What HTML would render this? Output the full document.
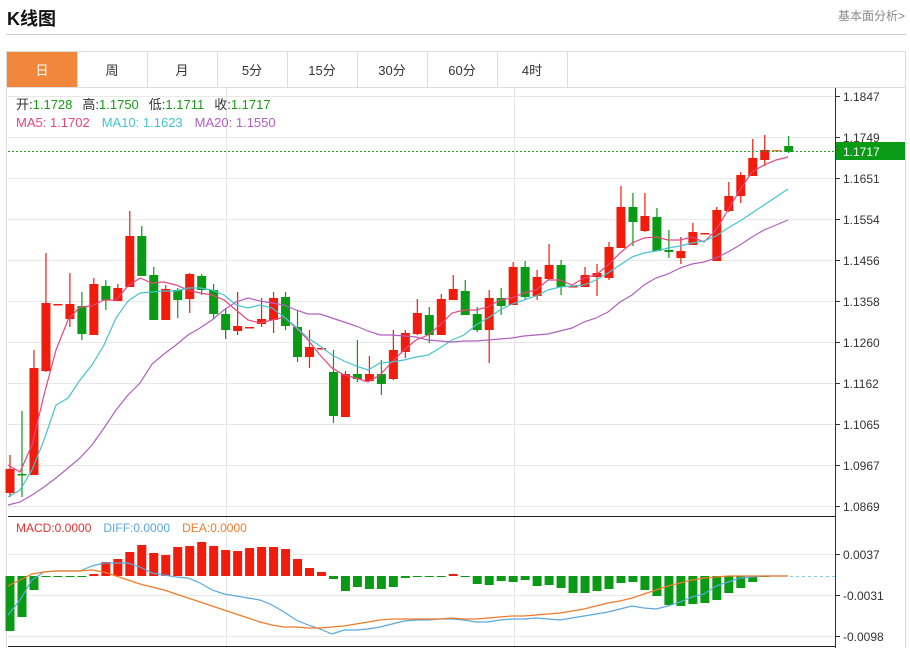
<!DOCTYPE html>
<html><head><meta charset="utf-8"><style>
body{margin:0;width:910px;height:648px;background:#fff;font-family:"Liberation Sans","Noto Sans CJK SC",sans-serif;overflow:hidden;position:relative}
.t{position:absolute}
</style></head><body>
<div class="t" style="left:7px;top:5px;font-size:18px;font-weight:bold;color:#111">K线图</div>
<div class="t" style="left:838px;top:7px;font-size:12px;color:#888">基本面分析&gt;</div>
<div class="t" style="left:6px;top:34px;width:900px;height:1px;background:#ccc"></div>
<svg id="s" width="910" height="648" style="position:absolute;left:0;top:0" xmlns="http://www.w3.org/2000/svg" font-family="Liberation Sans, Noto Sans CJK SC, sans-serif"></svg>
<script>
var s=document.getElementById('s'),h='';
h+='<rect x="6.5" y="51.5" width="899" height="36" fill="#fff" stroke="#ddd"/>';
var tabs=['日','周','月','5分','15分','30分','60分','4时'];
for(var i=0;i<8;i++){var x=7+i*70;
 if(i==0)h+='<rect x="7" y="52" width="70" height="35" fill="#f0873a"/>';
 h+='<line x1="'+(x+70.5)+'" y1="52" x2="'+(x+70.5)+'" y2="87" stroke="#ddd"/>';
 h+='<text x="'+(x+35)+'" y="75" font-size="13" text-anchor="middle" fill="'+(i==0?'#fff':'#333')+'">'+tabs[i]+'</text>';}
h+='<line x1="6.5" y1="88" x2="6.5" y2="648" stroke="#ddd"/>';
h+='<line x1="905.5" y1="88" x2="905.5" y2="648" stroke="#ddd"/>';
var pl=['1.1847','1.1749','1.1651','1.1554','1.1456','1.1358','1.1260','1.1162','1.1065','1.0967','1.0869'];
for(var i=0;i<11;i++){var y=96+i*41;h+='<line x1="8" y1="'+(y+.5)+'" x2="835" y2="'+(y+.5)+'" stroke="#e8e8e8"/>';
 h+='<line x1="835" y1="'+(y+.5)+'" x2="840" y2="'+(y+.5)+'" stroke="#333"/><text x="843" y="'+(y+5)+'" font-size="12" fill="#333">'+pl[i]+'</text>';}
[226,514].forEach(function(x){h+='<line x1="'+(x+.5)+'" y1="88" x2="'+(x+.5)+'" y2="648" stroke="#e8e8e8"/>';});
[554,595,636].forEach(function(y){h+='<line x1="8" y1="'+(y+.5)+'" x2="835" y2="'+(y+.5)+'" stroke="#e8e8e8"/>';});
var ml=['0.0037','-0.0031','-0.0098'];[554,595,636].forEach(function(y,i){h+='<line x1="835" y1="'+(y+.5)+'" x2="840" y2="'+(y+.5)+'" stroke="#333"/><text x="843" y="'+(y+5)+'" font-size="12" fill="#333">'+ml[i]+'</text>';});
h+='<line x1="835.5" y1="88" x2="835.5" y2="648" stroke="#333"/>';
h+='<line x1="8" y1="516.5" x2="835" y2="516.5" stroke="#222"/><line x1="8" y1="646.5" x2="835" y2="646.5" stroke="#222"/>';
var R='#f01c0c',G='#0a9a16';
var c=[[469,493,455,497,R],[474,474,411,497,G],[368,475,350,475,R],[303,371,253,372,R],[304,304,304,304,R],[304,319,273,327,R],[306,334,292,340,G],[284,335,278,335,R],[286,300,280,310,G],[288,301,284,301,R],[236,287,211,287,R],[236,276,226,276,G],[275,320,267,320,G],[289,320,285,320,R],[290,300,288,318,G],[274,299,273,313,R],[276,290,274,295,G],[290,314,284,318,G],[314,330,308,339,G],[326,331,292,335,R],[327,327,327,327,R],[319,324,298,327,R],[298,320,292,333,R],[297,326,292,330,G],[327,357,310,362,G],[347,357,330,368,R],[348,348,348,348,R],[372,416,350,423,G],[374,417,371,417,R],[374,379,340,382,G],[374,381,356,381,R],[374,384,360,395,G],[350,379,330,380,R],[333,352,330,358,R],[313,334,299,335,R],[315,335,307,343,G],[299,335,294,335,R],[289,300,275,300,R],[291,315,280,315,G],[314,330,307,332,G],[298,330,290,363,R],[298,306,288,315,G],[267,305,262,305,R],[267,297,261,300,G],[277,296,270,300,R],[265,279,244,280,R],[265,287,260,295,G],[286,286,286,286,R],[275,287,267,287,R],[273,277,264,296,R],[247,278,242,280,R],[207,248,186,248,R],[207,222,193,246,G],[216,231,193,232,R],[217,251,208,251,G],[250,252,230,258,G],[251,258,237,264,R],[232,245,223,245,R],[233,233,233,233,R],[210,261,207,261,R],[196,211,182,212,R],[175,196,172,203,R],[158,176,139,176,R],[150,160,135,166,R],[150,150,150,150,'#e08030'],[146,152,136,153,G]];
c.forEach(function(d,i){var x=10+i*11.98;
 h+='<line x1="'+x+'" y1="'+d[2]+'" x2="'+x+'" y2="'+d[3]+'" stroke="'+d[4]+'" stroke-width="1.2"/>';
 h+='<rect x="'+(x-4.5)+'" y="'+d[0]+'" width="9" height="'+Math.max(1.5,d[1]-d[0])+'" fill="'+d[4]+'"/>';});
function pl2(xs,ys,col){var p=[];for(var i=0;i<ys.length;i++)p.push((8+i*12)+','+ys[i]);h+='<polyline points="'+p.join(' ')+'" fill="none" stroke="'+col+'" stroke-width="1.2"/>';}
pl2(0,[465,472,445,395,350,320,307,306,300,300,286,278,283,282,285,290,293,295,300,310,320,323,320,317,328,340,355,368,375,378,382,375,362,350,340,335,325,313,310,310,307,300,298,293,290,280,280,285,278,275,265,253,243,238,237,240,240,237,242,230,210,190,172,165,160,157],'#e8457e');
pl2(0,[497,490,470,440,405,398,380,365,345,318,301,293,292,291,291,288,288,290,295,305,308,305,308,317,327,338,346,355,361,366,370,363,362,360,357,355,348,340,335,325,318,310,304,300,296,290,287,286,285,280,273,265,257,253,251,248,246,243,241,236,228,221,213,205,197,189],'#45c3cf');
pl2(0,[505,502,495,487,478,468,458,445,428,410,395,383,364,354,345,335,328,320,310,302,298,301,303,305,310,314,314,318,322,326,331,335,335,336,337,340,341,342,341,341,340,339,338,336,335,334,331,328,322,318,312,302,295,285,278,274,268,264,262,258,252,245,237,230,225,220],'#b060c0');
h+='<line x1="8" y1="151.5" x2="835" y2="151.5" stroke="#2a9a2a" stroke-dasharray="2,2"/>';
h+='<rect x="836" y="142" width="69" height="18" fill="#0a9a16"/><text x="843" y="156" font-size="12" fill="#fff">1.1717</text>';
var mb=[631,617,590,577,577,577,577,574,562,559,552,545,553,555,547,546,542,546,550,551,548,547,547,549,559,568,572,579,591,587,589,589,587,578,577,577,576,574,577,584,585,581,582,580,586,585,588,593,593,591,589,583,582,590,596,605,606,604,603,600,593,588,582,577];
mb.forEach(function(y,i){var x=10+i*11.98,z=576;var t=Math.min(y,z),hh=Math.max(1,Math.abs(y-z));h+='<rect x="'+(x-4.5)+'" y="'+t+'" width="9" height="'+hh+'" fill="'+(y<z?R:G)+'"/>';});
h+='<line x1="790" y1="576.5" x2="835" y2="576.5" stroke="#8ec8e8" stroke-dasharray="3,3"/>';
pl2(0,[615,600,580,572,571,571,571,566,563,563,563,567,573,575,577,578,583,590,594,596,598,600,605,612,620,625,629,634,630,630,629,627,624,621,620,620,619,619,620,622,622,620,619,619,618,619,620,618,616,614,612,609,606,608,609,606,602,597,594,586,582,578,577,576,576,576],'#5aa8e0');
pl2(0,[586,580,574,572,571,571,571,570,572,576,580,584,587,590,594,598,602,606,610,614,618,622,625,627,627,628,628,627,626,624,622,620,619,619,619,619,619,618,619,619,618,617,616,616,615,614,613,611,609,606,603,601,598,594,590,586,583,580,578,577,576,576,576,576,576,576],'#f07a28');
h+='<text x="16" y="109" font-size="13"><tspan fill="#333">开:</tspan><tspan fill="#1a9a1a">1.1728</tspan><tspan fill="#333" dx="10">高:</tspan><tspan fill="#1a9a1a">1.1750</tspan><tspan fill="#333" dx="10">低:</tspan><tspan fill="#1a9a1a">1.1711</tspan><tspan fill="#333" dx="10">收:</tspan><tspan fill="#1a9a1a">1.1717</tspan></text>';
h+='<text x="16" y="127" font-size="13"><tspan fill="#e8457e">MA5: 1.1702</tspan><tspan fill="#45c3cf" dx="12">MA10: 1.1623</tspan><tspan fill="#b060c0" dx="12">MA20: 1.1550</tspan></text>';
h+='<text x="16" y="532" font-size="12"><tspan fill="#e83030">MACD:0.0000</tspan><tspan fill="#5aa8e0" dx="12">DIFF:0.0000</tspan><tspan fill="#f07a28" dx="12">DEA:0.0000</tspan></text>';
s.innerHTML=h;
</script>
</body></html>
